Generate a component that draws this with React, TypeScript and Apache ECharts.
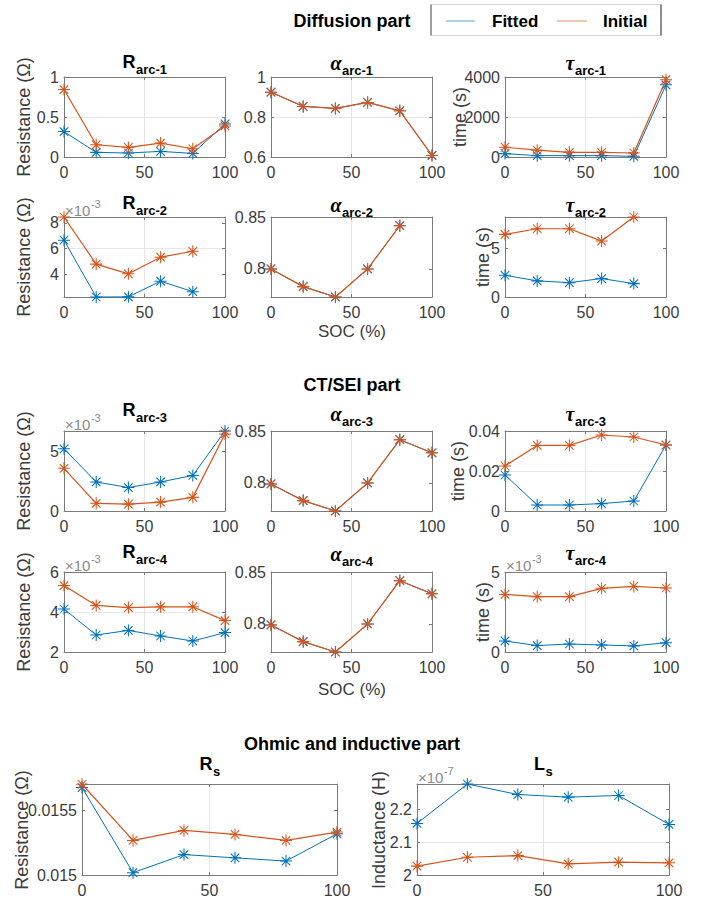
import React, { useEffect, useRef } from 'react';
import * as echarts from 'echarts';

// ---------------- data ----------------
const soc = [0, 20, 40, 60, 80, 100];

const rArc1Fitted = [0.318, 0.058, 0.05, 0.07, 0.045, 0.413];
const rArc1Initial = [0.843, 0.153, 0.12, 0.174, 0.103, 0.388];
const alphaArc1Fitted = [0.924, 0.853, 0.843, 0.873, 0.831, 0.608];
const alphaArc1Initial = [0.924, 0.853, 0.843, 0.873, 0.831, 0.608];
const tauArc1Fitted = [170, 68, 68, 68, 34, 3610];
const tauArc1Initial = [490, 340, 236, 236, 200, 3865];

const rArc2Fitted = [6.66e-3, 2.25e-3, 2.26e-3, 3.48e-3, 2.66e-3, null];
const rArc2Initial = [8.46e-3, 4.8e-3, 4.05e-3, 5.34e-3, 5.8e-3, null];
const alphaArc2Fitted = [0.8, 0.783, 0.773, 0.8, 0.8416, null];
const alphaArc2Initial = [0.8, 0.783, 0.773, 0.8, 0.8416, null];
const tauArc2Fitted = [2.24, 1.66, 1.48, 1.9, 1.38, null];
const tauArc2Initial = [6.45, 7.03, 7.03, 5.76, 8.24, null];

const rArc3Fitted = [5.25e-3, 2.45e-3, 1.98e-3, 2.45e-3, 3.0e-3, 6.75e-3];
const rArc3Initial = [3.6e-3, 0.65e-3, 0.58e-3, 0.75e-3, 1.15e-3, 6.5e-3];
const alphaArc3Fitted = [0.799, 0.783, 0.773, 0.8, 0.8416, 0.829];
const alphaArc3Initial = [0.799, 0.783, 0.773, 0.8, 0.8416, 0.829];
const tauArc3Fitted = [0.018, 0.003, 0.003, 0.0037, 0.005, 0.033];
const tauArc3Initial = [0.0225, 0.0328, 0.0328, 0.038, 0.037, 0.033];

const rArc4Fitted = [4.15e-3, 2.85e-3, 3.08e-3, 2.8e-3, 2.55e-3, 2.97e-3];
const rArc4Initial = [5.32e-3, 4.33e-3, 4.22e-3, 4.26e-3, 4.26e-3, 3.57e-3];
const alphaArc4Fitted = [0.799, 0.783, 0.773, 0.8, 0.8416, 0.829];
const alphaArc4Initial = [0.799, 0.783, 0.773, 0.8, 0.8416, 0.829];
const tauArc4Fitted = [0.69e-3, 0.4e-3, 0.5e-3, 0.44e-3, 0.38e-3, 0.58e-3];
const tauArc4Initial = [3.6e-3, 3.46e-3, 3.46e-3, 3.98e-3, 4.1e-3, 4.0e-3];

const rsFitted = [0.015673, 0.015018, 0.015157, 0.015132, 0.015107, 0.015317];
const rsInitial = [0.015698, 0.015266, 0.015343, 0.015312, 0.015266, 0.01533];
const lsFitted = [2.157e-7, 2.277e-7, 2.245e-7, 2.237e-7, 2.242e-7, 2.154e-7];
const lsInitial = [2.027e-7, 2.054e-7, 2.059e-7, 2.034e-7, 2.039e-7, 2.037e-7];

// tick labels (in displayed units)
const rArc1Ticks = [0, 0.5, 1];
const alphaArc1Ticks = [0.6, 0.8, 1];
const tauArc1Ticks = [0, 2000, 4000];
const rArc2Ticks = [4, 6, 8];
const alphaArc2Ticks = [0.8, 0.85];
const tauArc2Ticks = [0, 5];
const rArc3Ticks = [0, 5];
const alphaArc3Ticks = [0.8, 0.85];
const tauArc3Ticks = [0, 0.02, 0.04];
const rArc4Ticks = [2, 4, 6];
const alphaArc4Ticks = [0.8, 0.85];
const tauArc4Ticks = [0, 5];
const rsTicks = [0.015, 0.0155];
const lsTicks = [2, 2.1, 2.2];

const legendNames = ['Fitted', 'Initial'];
const sectionTitles = ['Diffusion part', 'CT/SEI part', 'Ohmic and inductive part'];

// ---------------- styles ----------------
const BLUE = '#0072BD';
const ORANGE = '#D95319';
const AXIS = '#7a7a7a';
const GRIDC = '#e6e6e6';
const TXT = '#3c3c3c';
const FONT = "'Liberation Sans', Arial, Helvetica, sans-serif";
const SERIF = "'Liberation Serif', 'DejaVu Serif', serif";
const STAR = 'path://M0,5L10,5M5,0L5,10M1.46,1.46L8.54,8.54M8.54,1.46L1.46,8.54';

type Vals = (number | null)[];
interface Panel {
  left: number; top: number; width: number; height: number;
  fitted: Vals; initial: Vals;
  ticks: number[]; yMin: number; yMax: number; scale: number;
  main: string; sub: string; greek: boolean; titleY: number;
  yName?: string; yNameX?: number; exp?: string;
}

const C = [64, 271, 505];
const W = 161;
const H = 80;
const R = [77, 217, 431, 572];

const panels: Panel[] = [
  { left: C[0], top: R[0], width: W, height: H, fitted: rArc1Fitted, initial: rArc1Initial, ticks: rArc1Ticks, yMin: 0, yMax: 1, scale: 1, main: 'R', sub: 'arc-1', greek: false, titleY: 62, yName: 'Resistance (Ω)', yNameX: 24 },
  { left: C[1], top: R[0], width: W, height: H, fitted: alphaArc1Fitted, initial: alphaArc1Initial, ticks: alphaArc1Ticks, yMin: 0.6, yMax: 1, scale: 1, main: 'α', sub: 'arc-1', greek: true, titleY: 63 },
  { left: C[2], top: R[0], width: W, height: H, fitted: tauArc1Fitted, initial: tauArc1Initial, ticks: tauArc1Ticks, yMin: 0, yMax: 4000, scale: 1, main: 'τ', sub: 'arc-1', greek: true, titleY: 63, yName: 'time (s)', yNameX: 460 },

  { left: C[0], top: R[1], width: W, height: H, fitted: rArc2Fitted, initial: rArc2Initial, ticks: rArc2Ticks, yMin: 2.25, yMax: 8.46, scale: 1e-3, main: 'R', sub: 'arc-2', greek: false, titleY: 203, yName: 'Resistance (Ω)', yNameX: 24, exp: '-3' },
  { left: C[1], top: R[1], width: W, height: H, fitted: alphaArc2Fitted, initial: alphaArc2Initial, ticks: alphaArc2Ticks, yMin: 0.773, yMax: 0.85, scale: 1, main: 'α', sub: 'arc-2', greek: true, titleY: 205 },
  { left: C[2], top: R[1], width: W, height: H, fitted: tauArc2Fitted, initial: tauArc2Initial, ticks: tauArc2Ticks, yMin: 0, yMax: 8.24, scale: 1, main: 'τ', sub: 'arc-2', greek: true, titleY: 205, yName: 'time (s)', yNameX: 483 },

  { left: C[0], top: R[2], width: W, height: H, fitted: rArc3Fitted, initial: rArc3Initial, ticks: rArc3Ticks, yMin: 0, yMax: 6.75, scale: 1e-3, main: 'R', sub: 'arc-3', greek: false, titleY: 410, yName: 'Resistance (Ω)', yNameX: 24, exp: '-3' },
  { left: C[1], top: R[2], width: W, height: H, fitted: alphaArc3Fitted, initial: alphaArc3Initial, ticks: alphaArc3Ticks, yMin: 0.773, yMax: 0.85, scale: 1, main: 'α', sub: 'arc-3', greek: true, titleY: 414 },
  { left: C[2], top: R[2], width: W, height: H, fitted: tauArc3Fitted, initial: tauArc3Initial, ticks: tauArc3Ticks, yMin: 0, yMax: 0.04, scale: 1, main: 'τ', sub: 'arc-3', greek: true, titleY: 414, yName: 'time (s)', yNameX: 458 },

  { left: C[0], top: R[3], width: W, height: H, fitted: rArc4Fitted, initial: rArc4Initial, ticks: rArc4Ticks, yMin: 2, yMax: 6, scale: 1e-3, main: 'R', sub: 'arc-4', greek: false, titleY: 552, yName: 'Resistance (Ω)', yNameX: 24, exp: '-3' },
  { left: C[1], top: R[3], width: W, height: H, fitted: alphaArc4Fitted, initial: alphaArc4Initial, ticks: alphaArc4Ticks, yMin: 0.773, yMax: 0.85, scale: 1, main: 'α', sub: 'arc-4', greek: true, titleY: 554 },
  { left: C[2], top: R[3], width: W, height: H, fitted: tauArc4Fitted, initial: tauArc4Initial, ticks: tauArc4Ticks, yMin: 0, yMax: 5, scale: 1e-3, main: 'τ', sub: 'arc-4', greek: true, titleY: 553, yName: 'time (s)', yNameX: 483, exp: '-3' },

  { left: 82, top: 784, width: 255, height: 92, fitted: rsFitted, initial: rsInitial, ticks: rsTicks, yMin: 0.015, yMax: 0.0157, scale: 1, main: 'R', sub: 's', greek: false, titleY: 764, yName: 'Resistance (Ω)', yNameX: 22 },
  { left: 417, top: 784, width: 252, height: 92, fitted: lsFitted, initial: lsInitial, ticks: lsTicks, yMin: 2, yMax: 2.277, scale: 1e-7, main: 'L', sub: 's', greek: false, titleY: 764, yName: 'Inductance (H)', yNameX: 379, exp: '-7' },
];

const fmt = (v: number) => String(parseFloat(Number(v).toPrecision(6)));

let measureCtx: CanvasRenderingContext2D | null = null;
function textWidth(text: string, font: string): number {
  if (!measureCtx) measureCtx = document.createElement('canvas').getContext('2d');
  if (!measureCtx) return text.length * 8;
  measureCtx.font = font;
  return measureCtx.measureText(text).width;
}

function buildOption() {
  const grid: any[] = [];
  const xAxis: any[] = [];
  const yAxis: any[] = [];
  const series: any[] = [];
  const graphic: any[] = [];

  const axisLine = { show: true, onZero: false, lineStyle: { color: AXIS, width: 1 } };
  const tick = { show: true, inside: true, length: 3, lineStyle: { color: AXIS, width: 1 } };
  const labelStyle = { color: TXT, fontSize: 16, fontFamily: FONT };

  panels.forEach((p, i) => {
    grid.push({ left: p.left, top: p.top, width: p.width, height: p.height, show: false });
    xAxis.push({
      type: 'value', gridIndex: i, position: 'bottom', min: 0, max: 100, interval: 50,
      axisLine, axisTick: tick,
      axisLabel: { ...labelStyle, margin: 7, formatter: fmt, showMinLabel: true, showMaxLabel: true },
      splitLine: { show: true, showMinLine: false, showMaxLine: false, lineStyle: { color: GRIDC, width: 1 } },
    });
    xAxis.push({
      type: 'value', gridIndex: i, position: 'top', min: 0, max: 100, interval: 50,
      axisLine, axisTick: tick, axisLabel: { show: false }, splitLine: { show: false },
    });
    yAxis.push({
      type: 'value', gridIndex: i, position: 'left', min: p.yMin, max: p.yMax,
      axisLine, axisTick: { ...tick, customValues: p.ticks },
      axisLabel: { ...labelStyle, margin: 5, formatter: fmt, customValues: p.ticks },
      splitLine: { show: true, showMinLine: false, showMaxLine: false, lineStyle: { color: GRIDC, width: 1 } },
    });
    yAxis.push({
      type: 'value', gridIndex: i, position: 'right', min: p.yMin, max: p.yMax,
      axisLine, axisTick: { ...tick, customValues: p.ticks },
      axisLabel: { show: false, customValues: p.ticks }, splitLine: { show: false },
    });

    const mk = (vals: Vals, color: string, name: string, z: number, w: number) => ({
      type: 'line', name, xAxisIndex: 2 * i, yAxisIndex: 2 * i,
      data: soc
        .map((x, k) => (vals[k] == null ? null : [x, (vals[k] as number) / p.scale]))
        .filter((d) => d !== null),
      symbol: STAR, symbolSize: 12, showSymbol: true, clip: false, silent: true, z,
      lineStyle: { color, width: w },
      itemStyle: { color, borderColor: color, borderWidth: 1.05 },
      emphasis: { disabled: true },
    });
    series.push(mk(p.fitted, BLUE, legendNames[0], 3, 1.0));
    series.push(mk(p.initial, ORANGE, legendNames[1], 4, 1.2));

    // panel title with subscript (two text pieces)
    const mainFont = p.greek
      ? `italic bold 20px ${SERIF}`
      : `bold 18px ${FONT}`;
    const subFont = `bold 13px ${FONT}`;
    const wm = textWidth(p.main, mainFont);
    const ws = textWidth(p.sub, subFont);
    const x0 = p.left + p.width / 2 - (wm + ws) / 2;
    graphic.push({
      type: 'text', x: x0, y: p.titleY,
      style: p.greek
        ? { text: p.main, align: 'left', verticalAlign: 'middle', fontFamily: SERIF, fontStyle: 'italic', fontWeight: 'bold', fontSize: 20, fill: '#000' }
        : { text: p.main, align: 'left', verticalAlign: 'middle', fontFamily: FONT, fontWeight: 'bold', fontSize: 18, fill: '#000' },
    });
    graphic.push({
      type: 'text', x: x0 + wm + 0.5, y: p.titleY + 7,
      style: { text: p.sub, align: 'left', verticalAlign: 'middle', fontFamily: FONT, fontWeight: 'bold', fontSize: 13, fill: '#000' },
    });

    if (p.yName) {
      graphic.push({
        type: 'text', x: p.yNameX, y: p.top + p.height / 2, rotation: Math.PI / 2,
        style: { text: p.yName, align: 'center', verticalAlign: 'middle', fontFamily: FONT, fontSize: 18, fill: TXT },
      });
    }
    if (p.exp) {
      const wb = textWidth('×10', `15px ${FONT}`);
      graphic.push({
        type: 'text', x: p.left + 1, y: p.top - 7,
        style: { text: '×10', align: 'left', verticalAlign: 'middle', fontFamily: FONT, fontSize: 15, fill: '#8a8a8a' },
      });
      graphic.push({
        type: 'text', x: p.left + 1 + wb + 0.5, y: p.top - 13,
        style: { text: p.exp, align: 'left', verticalAlign: 'middle', fontFamily: FONT, fontSize: 11, fill: '#8a8a8a' },
      });
    }
  });

  // section titles
  const secY = [21, 385, 744];
  sectionTitles.forEach((t, k) => {
    graphic.push({
      type: 'text', x: 352, y: secY[k],
      style: { text: t, align: 'center', verticalAlign: 'middle', fontFamily: FONT, fontWeight: 'bold', fontSize: 18, fill: '#000' },
    });
  });

  // SOC labels
  [331, 689].forEach((y) => {
    graphic.push({
      type: 'text', x: 352, y,
      style: { text: 'SOC (%)', align: 'center', verticalAlign: 'middle', fontFamily: FONT, fontSize: 17, fill: TXT },
    });
  });

  // legend
  graphic.push({ type: 'rect', shape: { x: 431, y: 4.5, width: 230, height: 31 }, style: { fill: '#fff', stroke: '#d6d6d6', lineWidth: 1 } });
  graphic.push({ type: 'line', shape: { x1: 431, y1: 4.5, x2: 431, y2: 35.5 }, style: { stroke: '#555', lineWidth: 1 } });
  graphic.push({ type: 'line', shape: { x1: 661, y1: 4.5, x2: 661, y2: 35.5 }, style: { stroke: '#333', lineWidth: 1 } });
  graphic.push({ type: 'line', shape: { x1: 446, y1: 21, x2: 475, y2: 21 }, style: { stroke: BLUE, lineWidth: 1.2, opacity: 0.55 } });
  graphic.push({ type: 'line', shape: { x1: 557, y1: 21, x2: 587, y2: 21 }, style: { stroke: ORANGE, lineWidth: 1.2, opacity: 0.55 } });
  graphic.push({ type: 'text', x: 492, y: 21, style: { text: legendNames[0], align: 'left', verticalAlign: 'middle', fontFamily: FONT, fontWeight: 'bold', fontSize: 17, fill: '#000' } });
  graphic.push({ type: 'text', x: 603, y: 21, style: { text: legendNames[1], align: 'left', verticalAlign: 'middle', fontFamily: FONT, fontWeight: 'bold', fontSize: 17, fill: '#000' } });

  return {
    animation: false,
    backgroundColor: '#fff',
    grid, xAxis, yAxis, series, graphic,
  };
}

export default function App() {
  const ref = useRef<HTMLDivElement>(null);
  useEffect(() => {
    document.body.style.margin = '0';
    const chart = echarts.init(ref.current as HTMLDivElement, null, { renderer: 'svg' });
    chart.setOption(buildOption() as any);
    return () => chart.dispose();
  }, []);
  return <div ref={ref} style={{ width: 702, height: 898, background: '#fff' }} />;
}
